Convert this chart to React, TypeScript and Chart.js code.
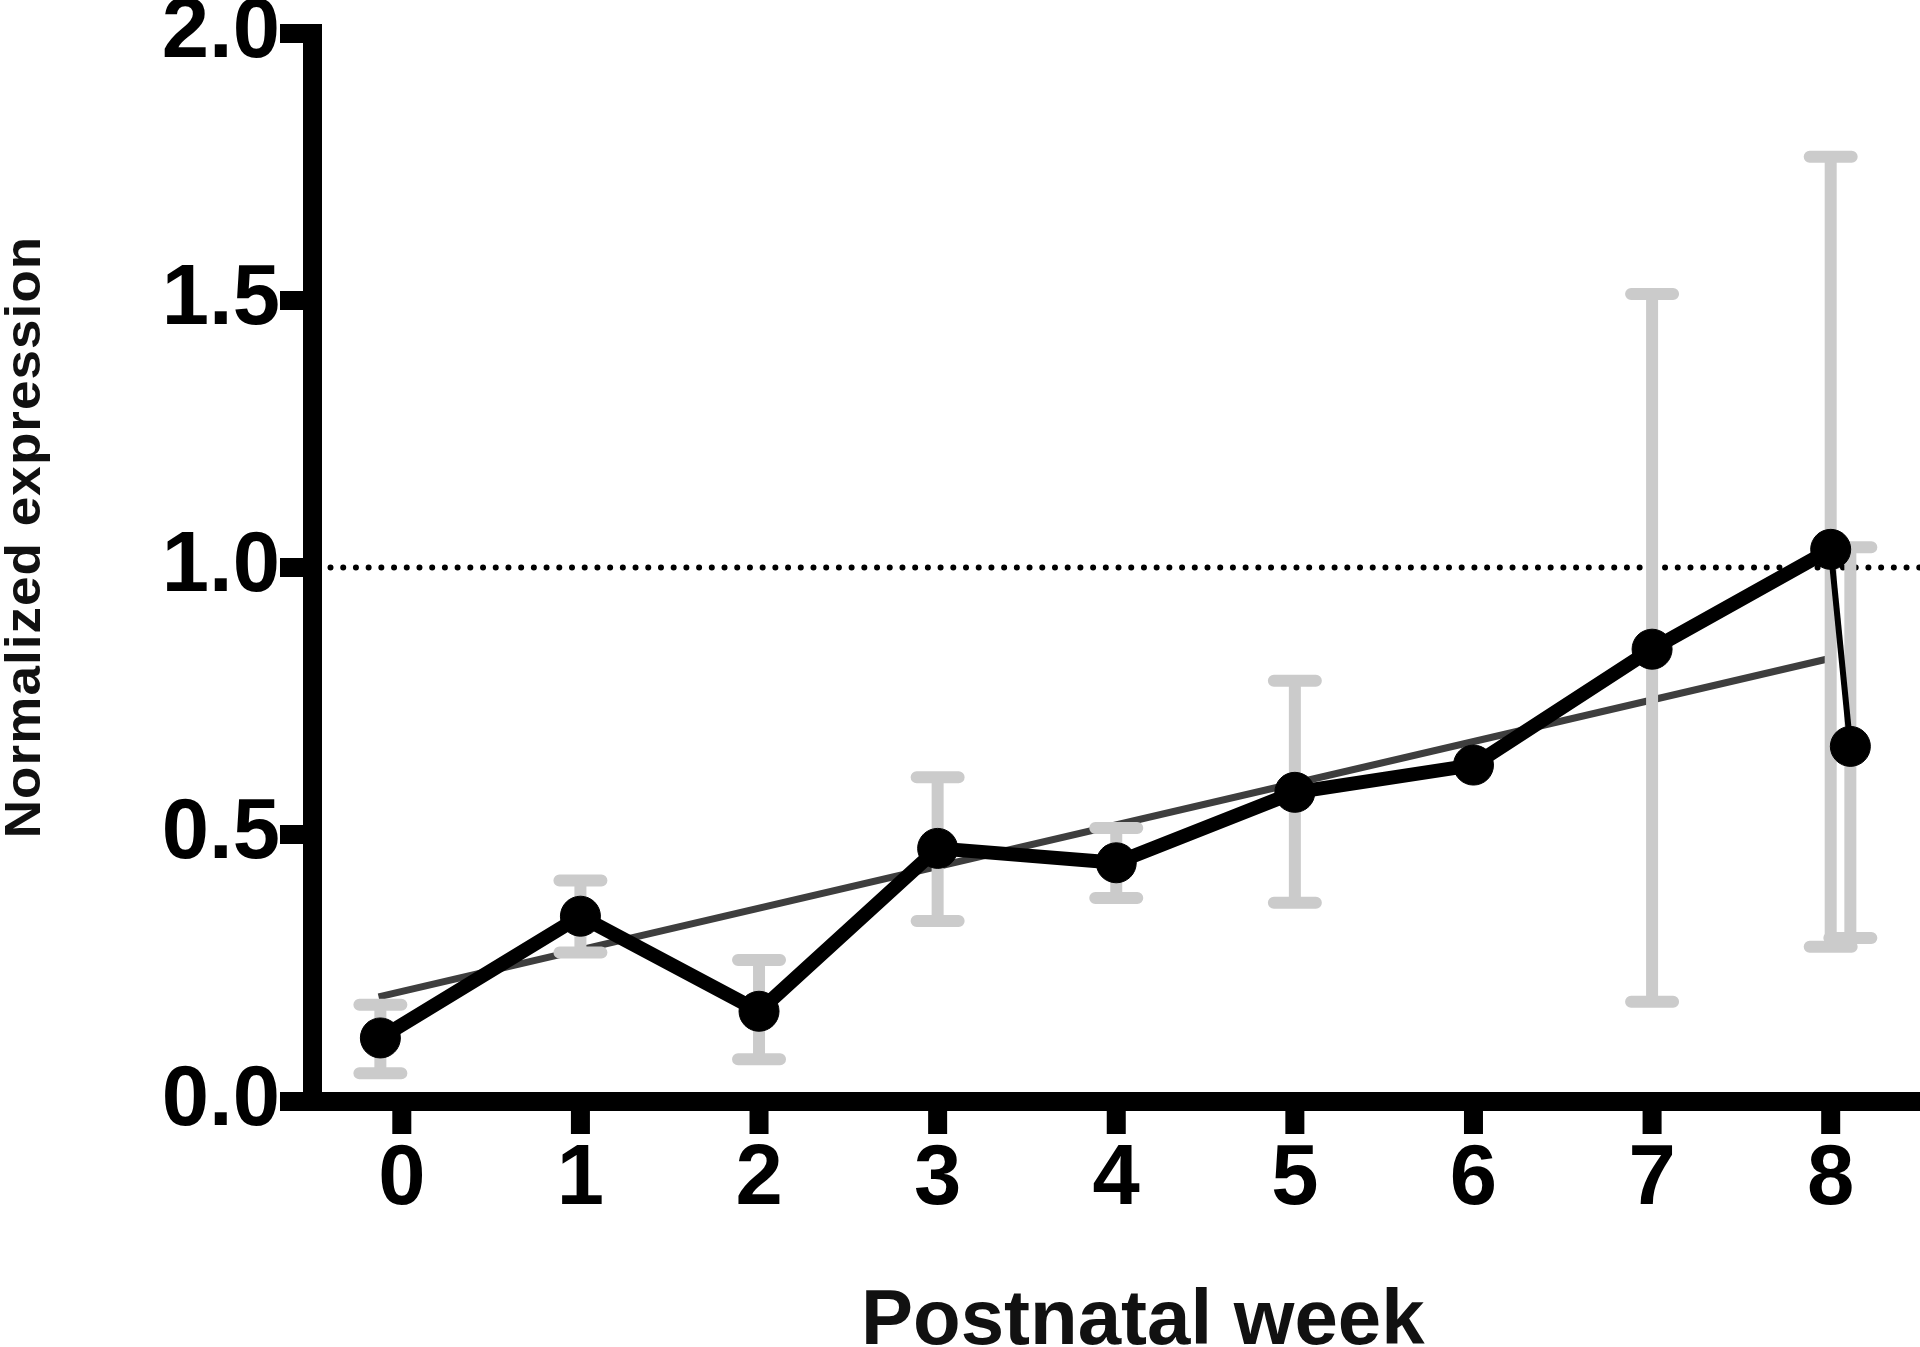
import { useEffect, useRef } from 'react';
import { Chart, registerables } from 'chart.js';

Chart.register(...registerables);

// ---- data ----
const weekX = [-0.12, 1, 2, 3, 4, 5, 6, 7, 8, 8.11];
const meanExpr = [0.119, 0.347, 0.169, 0.474, 0.447, 0.579, 0.63, 0.847, 1.034, 0.665];
const errUpper: (number | null)[] = [0.181, 0.414, 0.265, 0.607, 0.512, 0.788, null, 1.512, 1.769, 1.038];
const errLower: (number | null)[] = [0.053, 0.279, 0.079, 0.338, 0.381, 0.372, null, 0.187, 0.29, 0.306];
const fitX = [-0.13, 8.0];
const fitY = [0.196, 0.83];
const xTickValues = [0, 1, 2, 3, 4, 5, 6, 7, 8];
const yTickValues = [0, 0.5, 1, 1.5, 2];
const referenceLevel = 1.0;
const xTitle = 'Postnatal week';
const yTitle = 'Normalized expression';

const FONT = '"Liberation Sans", Arial, Helvetica, sans-serif';

export default function App() {
  const ref = useRef<HTMLCanvasElement>(null);

  useEffect(() => {
    document.body.style.margin = '0';
    const canvas = ref.current!;

    const AXW = 19; // axis line thickness
    const TL = 23; // tick length

    const decor = {
      id: 'decor',
      afterLayout(chart: any) {
        // let the plot area run to the right edge of the canvas
        const xs = chart.scales.x;
        const ca = chart.chartArea;
        ca.right = chart.width;
        ca.width = ca.right - ca.left;
        xs.right = chart.width;
        xs.width = xs.right - xs.left;
        xs.configure();
      },
      beforeDatasetsDraw(chart: any) {
        const { ctx, chartArea } = chart;
        const xs = chart.scales.x;
        const ys = chart.scales.y;
        ctx.save();
        // dotted reference line
        const yr = ys.getPixelForValue(referenceLevel);
        ctx.strokeStyle = '#000';
        ctx.lineWidth = 6;
        ctx.lineCap = 'round';
        ctx.setLineDash([0.01, 12.7]);
        ctx.beginPath();
        ctx.moveTo(chartArea.left + 18, yr);
        ctx.lineTo(chart.width, yr);
        ctx.stroke();
        ctx.setLineDash([]);
        // axes
        ctx.fillStyle = '#000';
        const left = chartArea.left;
        const bottom = ys.getPixelForValue(0);
        const top = ys.getPixelForValue(2);
        ctx.fillRect(left - AXW / 2, top - AXW / 2, AXW, bottom - top + AXW);
        ctx.fillRect(left - AXW / 2 - TL, bottom - AXW / 2, chart.width - (left - AXW / 2 - TL), AXW);
        for (const v of yTickValues) {
          const p = ys.getPixelForValue(v);
          ctx.fillRect(left - AXW / 2 - TL, p - AXW / 2, TL, AXW);
        }
        for (const v of xTickValues) {
          const p = xs.getPixelForValue(v);
          ctx.fillRect(p - AXW / 2, bottom + AXW / 2, AXW, TL);
        }
        ctx.restore();
      },
      beforeDatasetDraw(chart: any, args: any) {
        if (args.index !== 0) return;
        const { ctx } = chart;
        const xs = chart.scales.x;
        const ys = chart.scales.y;
        ctx.save();
        ctx.strokeStyle = '#cbcbcb';
        ctx.lineWidth = 12;
        for (let i = 0; i < weekX.length; i++) {
          const hi = errUpper[i];
          const lo = errLower[i];
          if (hi == null || lo == null) continue;
          const x = xs.getPixelForValue(weekX[i]);
          const y1 = ys.getPixelForValue(hi);
          const y2 = ys.getPixelForValue(lo);
          ctx.lineCap = 'butt';
          ctx.beginPath();
          ctx.moveTo(x, y1);
          ctx.lineTo(x, y2);
          ctx.stroke();
          ctx.lineCap = 'round';
          ctx.beginPath();
          ctx.moveTo(x - 21, y1);
          ctx.lineTo(x + 21, y1);
          ctx.moveTo(x - 21, y2);
          ctx.lineTo(x + 21, y2);
          ctx.stroke();
        }
        ctx.restore();
      },
      afterDraw(chart: any) {
        const { ctx } = chart;
        ctx.save();
        ctx.fillStyle = '#111';
        // x title
        ctx.font = `bold 78px ${FONT}`;
        ctx.textAlign = 'left';
        ctx.textBaseline = 'alphabetic';
        ctx.fillText(xTitle, 861, 1344);
        // y title
        ctx.translate(40, 537);
        ctx.rotate(-Math.PI / 2);
        ctx.scale(1.06, 1);
        ctx.font = `bold 50px ${FONT}`;
        try { (ctx as any).letterSpacing = '1px'; } catch (e) {}
        ctx.textAlign = 'center';
        ctx.fillText(yTitle, 0, 0);
        ctx.restore();
      },
    };

    const chart = new Chart(canvas, {
      type: 'scatter',
      data: {
        datasets: [
          {
            label: 'mean',
            data: weekX.map((x, i) => ({ x, y: meanExpr[i] })),
            showLine: true,
            borderColor: '#000',
            backgroundColor: '#000',
            borderWidth: 14,
            borderJoinStyle: 'round',
            pointRadius: 20,
            pointBorderWidth: 1,
            pointBorderColor: '#000',
            pointBackgroundColor: '#000',
            clip: false,
            order: 0,
            segment: {
              borderWidth: (c: any) => (c.p1DataIndex === weekX.length - 1 ? 6 : undefined),
            },
          } as any,
          {
            label: 'fit',
            data: fitX.map((x, i) => ({ x, y: fitY[i] })),
            showLine: true,
            borderColor: '#3e3e3e',
            borderWidth: 7,
            pointRadius: 0,
            clip: false,
            order: 2,
          } as any,
        ],
      },
      options: {
        responsive: false,
        devicePixelRatio: 1,
        animation: false,
        layout: { padding: { top: 33.5, left: 0, right: 0, bottom: 0 } },
        plugins: { legend: { display: false }, tooltip: { enabled: false } },
        scales: {
          x: {
            type: 'linear',
            min: -0.5,
            max: 8.5,
            grid: { display: false, drawTicks: false },
            border: { display: false },
            afterBuildTicks: (s: any) => {
              s.ticks = xTickValues.map((v) => ({ value: v }));
            },
            afterFit: (s: any) => {
              s.height = 245.5;
              s.paddingLeft = 0;
              s.paddingRight = 0;
            },
            ticks: {
              autoSkip: false,
              maxRotation: 0,
              padding: 28,
              color: '#000',
              font: { family: FONT, size: 85, weight: 'bold' },
              callback: (v: any) => String(v),
            },
          },
          y: {
            type: 'linear',
            min: 0,
            max: 2,
            grid: { display: false, drawTicks: false },
            border: { display: false },
            afterBuildTicks: (s: any) => {
              s.ticks = yTickValues.map((v) => ({ value: v }));
            },
            afterFit: (s: any) => {
              s.width = 312.5;
              s.paddingTop = 0;
              s.paddingBottom = 0;
            },
            ticks: {
              autoSkip: false,
              padding: 32.5,
              color: '#000',
              font: { family: FONT, size: 85, weight: 'bold', lineHeight: 0.7 },
              callback: (v: any) => Number(v).toFixed(1),
            },
          },
        },
      } as any,
      plugins: [decor],
    });
    return () => chart.destroy();
  }, []);

  return (
    <div style={{ position: 'fixed', left: 0, top: 0, width: 1920, height: 1347, background: '#fff' }}>
      <canvas ref={ref} width={1920} height={1347} style={{ width: 1920, height: 1347, display: 'block' }} />
    </div>
  );
}
